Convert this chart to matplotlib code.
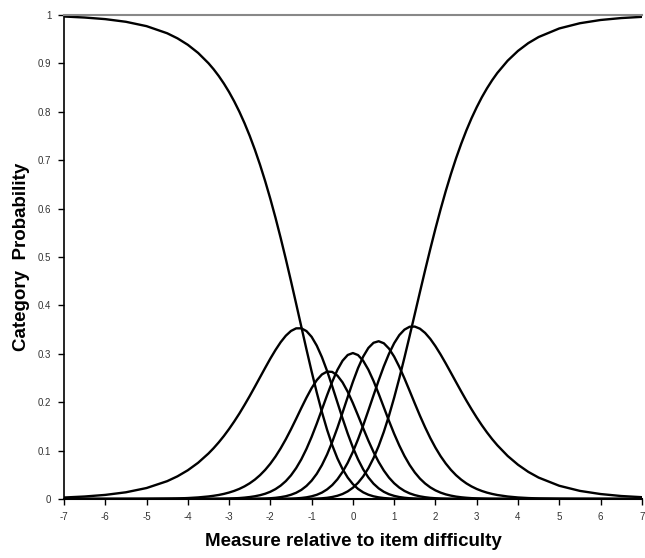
import matplotlib
matplotlib.use("Agg")
import matplotlib.pyplot as plt

plt.rcParams['font.family'] = ['Liberation Sans', 'DejaVu Sans']

# measure (logits relative to item difficulty)
x = [-7, -6.5, -6, -5.5, -5, -4.5, -4.25, -4, -3.75, -3.5,
     -3.375, -3.25, -3.125, -3, -2.875, -2.75, -2.625, -2.5, -2.375, -2.25,
     -2.125, -2, -1.875, -1.75, -1.625, -1.5, -1.375, -1.25, -1.125, -1,
     -0.875, -0.75, -0.625, -0.5, -0.375, -0.25, -0.125, 0, 0.125, 0.25,
     0.375, 0.5, 0.625, 0.75, 0.875, 1, 1.125, 1.25, 1.375, 1.5,
     1.625, 1.75, 1.875, 2, 2.125, 2.25, 2.375, 2.5, 2.625, 2.75,
     2.875, 3, 3.125, 3.25, 3.375, 3.5, 3.75, 4, 4.25, 4.5,
     5, 5.5, 6, 6.5, 7]

# category probabilities (same x positions as above)
cat0 = [0.9969, 0.9948, 0.9915, 0.9860, 0.9770, 0.9623, 0.9518, 0.9385, 0.9217, 0.9005,
        0.8880, 0.8740, 0.8583, 0.8409, 0.8215, 0.8001, 0.7764, 0.7504, 0.7218, 0.6906,
        0.6567, 0.6202, 0.5811, 0.5395, 0.4958, 0.4503, 0.4036, 0.3563, 0.3093, 0.2636,
        0.2200, 0.1796, 0.1431, 0.1111, 0.0840, 0.0619, 0.0443, 0.0308, 0.0209, 0.0138,
        0.0089, 0.0056, 0.0034, 0.0020, 0.0012, 0.0007, 0.0004, 0.0002, 0.0001, 0.0001,
        0, 0, 0, 0, 0, 0, 0, 0, 0, 0,
        0, 0, 0, 0, 0, 0, 0, 0, 0, 0,
        0, 0, 0, 0, 0]
cat1 = [0.0031, 0.0052, 0.0085, 0.0139, 0.0227, 0.0369, 0.0469, 0.0594, 0.0749, 0.0940,
        0.1050, 0.1171, 0.1303, 0.1447, 0.1602, 0.1767, 0.1944, 0.2128, 0.2320, 0.2515,
        0.2710, 0.2901, 0.3079, 0.3240, 0.3374, 0.3472, 0.3526, 0.3527, 0.3470, 0.3351,
        0.3169, 0.2931, 0.2646, 0.2329, 0.1996, 0.1665, 0.1351, 0.1066, 0.0819, 0.0612,
        0.0446, 0.0317, 0.0220, 0.0149, 0.0099, 0.0065, 0.0041, 0.0026, 0.0016, 0.0010,
        0.0006, 0.0003, 0.0002, 0.0001, 0.0001, 0, 0, 0, 0, 0,
        0, 0, 0, 0, 0, 0, 0, 0, 0, 0,
        0, 0, 0, 0, 0]
cat2 = [0, 0, 0, 0.0001, 0.0003, 0.0008, 0.0012, 0.0020, 0.0033, 0.0053,
        0.0067, 0.0084, 0.0106, 0.0134, 0.0168, 0.0210, 0.0262, 0.0325, 0.0401, 0.0493,
        0.0602, 0.0730, 0.0878, 0.1047, 0.1235, 0.1440, 0.1657, 0.1879, 0.2094, 0.2291,
        0.2456, 0.2574, 0.2633, 0.2626, 0.2550, 0.2410, 0.2216, 0.1982, 0.1725, 0.1462,
        0.1207, 0.0972, 0.0765, 0.0588, 0.0442, 0.0326, 0.0236, 0.0167, 0.0117, 0.0081,
        0.0055, 0.0037, 0.0024, 0.0016, 0.0010, 0.0007, 0.0004, 0.0003, 0.0002, 0.0001,
        0.0001, 0, 0, 0, 0, 0, 0, 0, 0, 0,
        0, 0, 0, 0, 0]
cat3 = [0, 0, 0, 0, 0, 0, 0, 0.0001, 0.0001, 0.0002,
        0.0003, 0.0005, 0.0007, 0.0010, 0.0014, 0.0020, 0.0029, 0.0041, 0.0057, 0.0079,
        0.0109, 0.0150, 0.0205, 0.0277, 0.0370, 0.0489, 0.0638, 0.0819, 0.1035, 0.1283,
        0.1558, 0.1850, 0.2145, 0.2424, 0.2668, 0.2857, 0.2976, 0.3016, 0.2974, 0.2856,
        0.2673, 0.2440, 0.2174, 0.1894, 0.1614, 0.1348, 0.1105, 0.0889, 0.0704, 0.0549,
        0.0422, 0.0321, 0.0241, 0.0179, 0.0132, 0.0096, 0.0070, 0.0050, 0.0036, 0.0026,
        0.0018, 0.0013, 0.0009, 0.0006, 0.0004, 0.0003, 0.0002, 0.0001, 0, 0,
        0, 0, 0, 0, 0]
cat4 = [0, 0, 0, 0, 0, 0, 0, 0, 0, 0,
        0, 0, 0, 0, 0.0001, 0.0001, 0.0002, 0.0003, 0.0004, 0.0007,
        0.0010, 0.0016, 0.0025, 0.0039, 0.0058, 0.0088, 0.0129, 0.0188, 0.0270, 0.0379,
        0.0521, 0.0701, 0.0921, 0.1180, 0.1471, 0.1786, 0.2108, 0.2420, 0.2705, 0.2943,
        0.3121, 0.3228, 0.3260, 0.3218, 0.3108, 0.2942, 0.2731, 0.2491, 0.2235, 0.1975,
        0.1721, 0.1482, 0.1261, 0.1062, 0.0886, 0.0734, 0.0603, 0.0492, 0.0400, 0.0323,
        0.0260, 0.0208, 0.0166, 0.0132, 0.0105, 0.0083, 0.0052, 0.0032, 0.0020, 0.0012,
        0.0005, 0.0002, 0.0001, 0, 0]
cat5 = [0, 0, 0, 0, 0, 0, 0, 0, 0, 0,
        0, 0, 0, 0, 0, 0, 0, 0, 0, 0,
        0.0001, 0.0001, 0.0002, 0.0003, 0.0005, 0.0008, 0.0013, 0.0022, 0.0035, 0.0056,
        0.0087, 0.0133, 0.0199, 0.0288, 0.0407, 0.0560, 0.0749, 0.0974, 0.1234, 0.1521,
        0.1828, 0.2142, 0.2451, 0.2742, 0.3001, 0.3219, 0.3387, 0.3500, 0.3559, 0.3563,
        0.3519, 0.3432, 0.3309, 0.3158, 0.2987, 0.2802, 0.2609, 0.2415, 0.2222, 0.2034,
        0.1855, 0.1684, 0.1524, 0.1375, 0.1237, 0.1111, 0.0890, 0.0709, 0.0561, 0.0443,
        0.0274, 0.0168, 0.0103, 0.0062, 0.0038]
cat6 = [0, 0, 0, 0, 0, 0, 0, 0, 0, 0,
        0, 0, 0, 0, 0, 0, 0, 0, 0, 0,
        0, 0, 0, 0, 0, 0, 0.0001, 0.0001, 0.0003, 0.0005,
        0.0009, 0.0015, 0.0025, 0.0042, 0.0067, 0.0104, 0.0158, 0.0233, 0.0335, 0.0467,
        0.0636, 0.0845, 0.1096, 0.1389, 0.1723, 0.2094, 0.2496, 0.2924, 0.3368, 0.3822,
        0.4277, 0.4726, 0.5163, 0.5584, 0.5984, 0.6362, 0.6713, 0.7040, 0.7340, 0.7616,
        0.7867, 0.8094, 0.8301, 0.8486, 0.8653, 0.8803, 0.9056, 0.9258, 0.9419, 0.9545,
        0.9722, 0.9830, 0.9897, 0.9937, 0.9962]

categories = [cat0, cat1, cat2, cat3, cat4, cat5, cat6]
for c in categories:
    assert len(c) == len(x)

xticks = list(range(-7, 8))
yticks = [0, 0.1, 0.2, 0.3, 0.4, 0.5, 0.6, 0.7, 0.8, 0.9, 1]
ytick_labels = ["0", "0.1", "0.2", "0.3", "0.4", "0.5", "0.6", "0.7", "0.8", "0.9", "1"]

fig = plt.figure(figsize=(6.45, 5.58), dpi=100)
ax = fig.add_axes([0.0992, 0.1057, 0.8958, 0.8674])

for cat in categories:
    ax.plot(x, cat, color="black", linewidth=1.7, solid_joinstyle="round",
            solid_capstyle="round")

ax.set_xlim(-7, 7)
ax.set_ylim(0, 1)
ax.set_xticks(xticks)
ax.set_xticklabels([str(t) for t in xticks])
ax.set_yticks(yticks)
ax.set_yticklabels(ytick_labels)
ax.tick_params(axis="both", direction="out", length=4, width=1, labelsize=7,
               labelcolor="#333333", pad=5)

ax.spines["right"].set_visible(False)
ax.spines["top"].set_color("#888888")
ax.spines["top"].set_linewidth(1.5)
ax.spines["left"].set_linewidth(1.2)
ax.spines["bottom"].set_linewidth(1.5)

ax.set_xlabel("Measure relative to item difficulty", fontsize=13.5, fontweight="bold",
              labelpad=8)
ax.set_ylabel("Category  Probability", fontsize=13.5, fontweight="bold", labelpad=6)

fig.savefig("out.png", dpi=100)
